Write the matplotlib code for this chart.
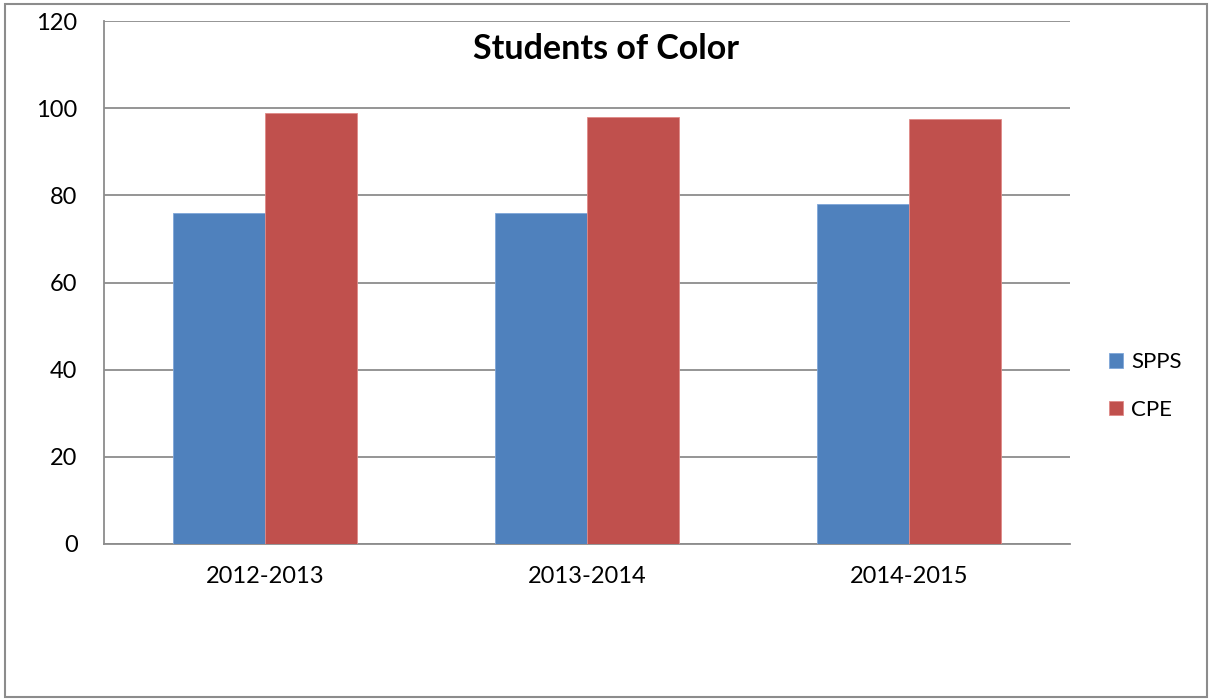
import matplotlib.pyplot as plt
import numpy as np
from matplotlib.patches import Rectangle

# Students of Color, SPPS vs CPE
years = ["2012-2013", "2013-2014", "2014-2015"]
spps = [76, 76, 78]
cpe = [99, 98, 97.5]

plt.rcParams['font.family'] = ['Lato', 'DejaVu Sans']

fig = plt.figure(figsize=(12.11, 6.99), dpi=100)
ax = fig.add_axes([104 / 1211, 1 - 544 / 699, (1070 - 104) / 1211, (544 - 21) / 699])

x = np.arange(len(years))
w = 1 / 3.5
ax.bar(x - w / 2, spps, w, color='#4F81BD', edgecolor='#7FA6D9', linewidth=0.6, label='SPPS', zorder=3)
ax.bar(x + w / 2, cpe, w, color='#C0504D', edgecolor='#E08A88', linewidth=0.6, label='CPE', zorder=3)

ax.set_xlim(-0.5, 2.5)
ax.set_ylim(0, 120)
ax.set_yticks(range(0, 121, 20))
ax.set_xticks(x)
ax.set_xticklabels(years)
ax.tick_params(axis='both', length=0, labelsize=17, colors='black')
ax.tick_params(axis='y', pad=19)
ax.tick_params(axis='x', pad=16)
ax.grid(axis='y', color='#8C8C8C', linewidth=1.3, zorder=0)
for s in ['top', 'right']:
    ax.spines[s].set_visible(False)
for s in ['left', 'bottom']:
    ax.spines[s].set_color('#8C8C8C')
    ax.spines[s].set_linewidth(1.3)

fig.text(606 / 1211, 1 - 49 / 699, 'Students of Color', ha='center', va='center',
         fontsize=24.5, fontweight='bold')

fig.legend(loc='center left', bbox_to_anchor=(1089 / 1211, 1 - 386 / 699), frameon=False,
           fontsize=16, handlelength=0.65, handleheight=0.65, handletextpad=0.35, labelspacing=1.25)

fig.patches.append(Rectangle((5 / 1211, 2 / 699), 1202 / 1211, 693 / 699, transform=fig.transFigure,
                             fill=False, edgecolor='#8C8C8C', linewidth=1.5))

fig.savefig('out.png', dpi=100)
